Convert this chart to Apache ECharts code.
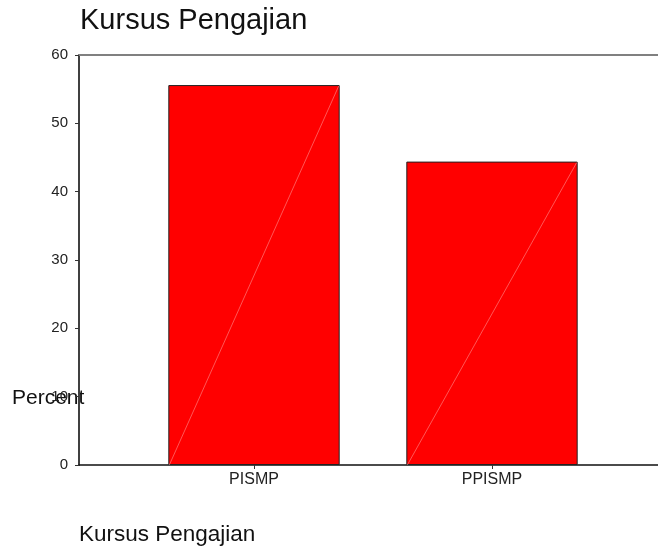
<!DOCTYPE html>
<html>
<head>
<meta charset="utf-8">
<script src="https://cdn.jsdelivr.net/npm/echarts@6/dist/echarts.min.js"></script>
<style>
  html, body { margin: 0; padding: 0; background: #fff; }
  #chart { width: 658px; height: 551px; }
</style>
</head>
<body>
<div id="chart"></div>
<script>
const categories = ['PISMP', 'PPISMP']
const percent = [55.6, 44.4]
const yTicks = { min: 0, max: 60, interval: 10 }

const FONT = 'Liberation Sans, Arial, sans-serif'
const BAR_RATIO = 0.72

const chart = echarts.init(document.getElementById('chart'), null, { renderer: 'canvas' })

const option = {
  backgroundColor: '#fff',
  animation: false,
  grid: [
    // frame: y axis + top/bottom lines
    { left: 79, right: 0, top: 55, bottom: 86 },
    // bars
    { left: 135, width: 476, top: 55, bottom: 86 },
  ],
  xAxis: [
    {
      gridIndex: 0,
      type: 'value',
      position: 'bottom',
      min: 0,
      max: 1,
      axisLine: { show: true, lineStyle: { color: '#111', width: 1.5 } },
      axisTick: { show: false },
      axisLabel: { show: false },
      splitLine: { show: false },
    },
    {
      gridIndex: 0,
      type: 'value',
      position: 'top',
      min: 0,
      max: 1,
      axisLine: { show: true, lineStyle: { color: '#808080', width: 2 } },
      axisTick: { show: false },
      axisLabel: { show: false },
      splitLine: { show: false },
    },
    {
      gridIndex: 1,
      type: 'category',
      data: categories,
      axisLine: { show: false },
      axisTick: { show: true, alignWithLabel: true, length: 4, lineStyle: { color: '#333' } },
      axisLabel: { fontSize: 16, fontFamily: FONT, color: '#222', margin: 7 },
    },
  ],
  yAxis: [
    {
      gridIndex: 0,
      type: 'value',
      min: yTicks.min,
      max: yTicks.max,
      interval: yTicks.interval,
      axisLine: { show: true, lineStyle: { color: '#404040', width: 2 } },
      axisTick: { show: true, length: 4, lineStyle: { color: '#333' } },
      axisLabel: { fontSize: 15, fontFamily: FONT, color: '#222', margin: 11 },
      splitLine: { show: false },
    },
    {
      gridIndex: 1,
      type: 'value',
      min: yTicks.min,
      max: yTicks.max,
      interval: yTicks.interval,
      show: false,
    },
  ],
  graphic: [
    {
      type: 'text',
      x: 80,
      y: 21,
      style: { text: 'Kursus Pengajian', fontSize: 29, fontFamily: FONT, fill: '#111', verticalAlign: 'middle' },
    },
    {
      type: 'text',
      x: 12,
      y: 398,
      style: { text: 'Percent', fontSize: 21, fontFamily: FONT, fill: '#111', verticalAlign: 'middle' },
    },
    {
      type: 'text',
      x: 79,
      y: 535,
      style: { text: 'Kursus Pengajian', fontSize: 22.5, fontFamily: FONT, fill: '#111', verticalAlign: 'middle' },
    },
  ],
  series: [
    {
      type: 'bar',
      xAxisIndex: 2,
      yAxisIndex: 1,
      barWidth: (BAR_RATIO * 100) + '%',
      itemStyle: { color: '#ff0000', borderColor: '#222', borderWidth: 1 },
      data: percent,
    },
    {
      // thin diagonal stroke across each bar
      type: 'custom',
      xAxisIndex: 2,
      yAxisIndex: 1,
      z: 3,
      renderItem: function (params, api) {
        const base = api.coord([api.value(0), 0])
        const top = api.coord([api.value(0), api.value(1)])
        const hw = api.size([1, 0])[0] * BAR_RATIO / 2
        return {
          type: 'line',
          shape: { x1: base[0] - hw + 1, y1: base[1], x2: top[0] + hw - 1, y2: top[1] + 1 },
          style: { stroke: 'rgba(255,170,170,0.85)', lineWidth: 0.6 },
        }
      },
      data: percent.map((v, i) => [i, v]),
    },
  ],
}

chart.setOption(option)
</script>
</body>
</html>
